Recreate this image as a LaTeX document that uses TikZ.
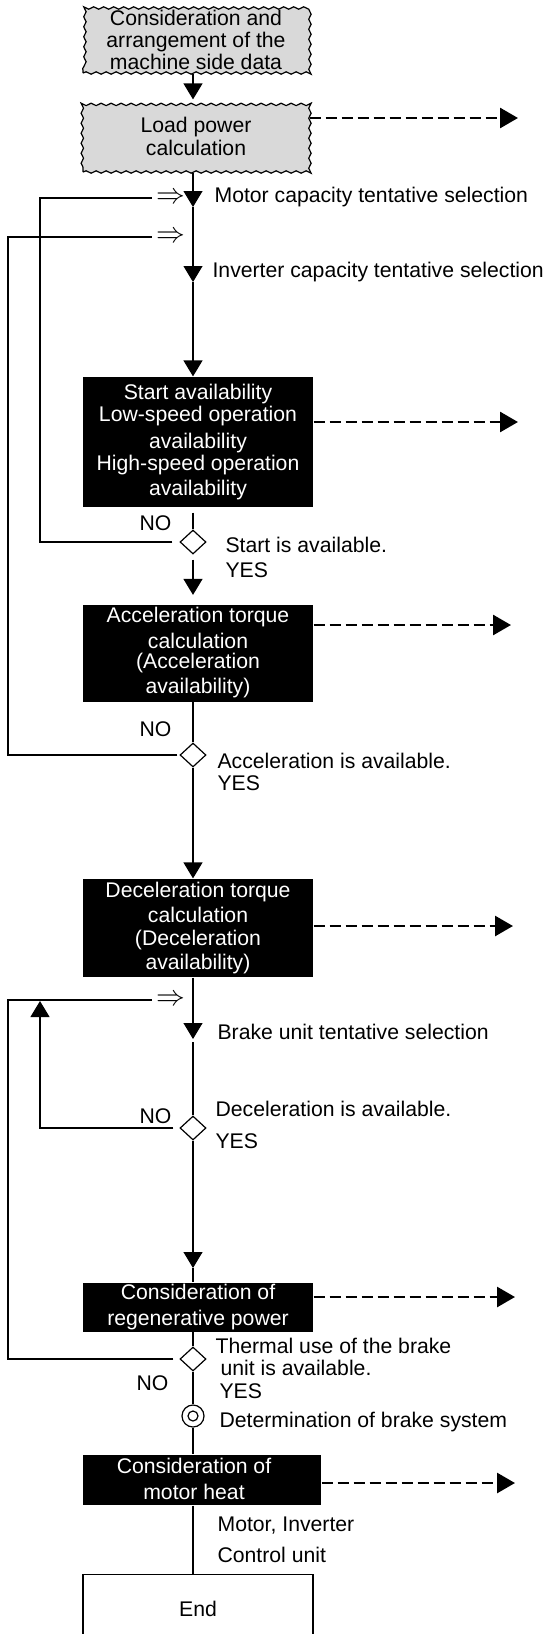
\documentclass[tikz,border=0pt]{standalone}
\usepackage{fontspec}
\setmainfont{Liberation Sans}
\usetikzlibrary{arrows.meta,shapes.geometric,decorations.pathmorphing}
\definecolor{boxgray}{gray}{0.85}

\begin{document}
\begin{tikzpicture}[x=0.5pt,y=-0.5pt,line width=0.6pt,
    font=\fontsize{10.6}{11}\selectfont,
    wavybox/.style={draw,fill=boxgray,decorate,
        decoration={snake,segment length=5pt,amplitude=0.6pt},
        minimum width=113pt,align=center,inner sep=0pt},
    blackbox/.style={fill=black,text=white,minimum width=115pt,align=center,inner sep=0pt},
    decision/.style={diamond,draw,minimum width=13pt,minimum height=12pt,inner sep=0pt},
    arr/.style={-{Triangle[width=9.5pt,length=8pt]}},
    dasharr/.style={line width=1.4pt,dash pattern=on 5.5pt off 2.5pt,
        -{Triangle[width=10pt,length=9pt]}},
    impl/.style={inner sep=0pt,font=\fontsize{15}{15}\selectfont},
    lbl/.style={inner sep=0pt}]
    \useasboundingbox (0,0) rectangle (546,1634);
    \clip (0,0) rectangle (546,1634);

    % spine and turning points
    \coordinate (sp) at (193,0);
    \coordinate (mcap) at (193,207);
    \coordinate (icap) at (193,282);
    \coordinate (bsel) at (193,1039);
    \coordinate (rarr) at (193,1268);
    \coordinate (k1) at (40,198);
    \coordinate (k2) at (8,237);
    \coordinate (k3) at (8,1000);
    \coordinate (k4) at (40,1001);

    % boxes
    \node[wavybox,minimum height=33pt] (box1) at (196,40)
        {Consideration and\\arrangement of the\\machine side data};
    \node[wavybox,minimum height=36pt] (box2) at (196,136)
        {Load power\\[0.5pt]calculation};
    \node[blackbox,minimum height=65pt] (box3) at (198,442)
        {Start availability\\Low-speed operation\\[2.5pt]availability\\High-speed operation\\[1.5pt]availability};
    \node[blackbox,minimum height=48.5pt] (box4) at (198,653)
        {Acceleration torque\\[2pt]calculation\\[-1pt](Acceleration\\[1.5pt]availability)};
    \node[blackbox,minimum height=49pt] (box5) at (198,928)
        {Deceleration torque\\[1.5pt]calculation\\[0.5pt](Deceleration\\[1pt]availability)};
    \node[blackbox,minimum height=24.5pt] (box6) at (198,1307)
        {Consideration of\\[2pt]regenerative power};
    \node[blackbox,minimum width=119pt,minimum height=25pt] (box7) at (202,1480) {};
    \node[lbl,text=white,align=center] (heattxt) at (194,1479)
        {Consideration of\\[2pt]motor heat};
    \node[draw,anchor=north,minimum width=115pt,minimum height=34pt] (endbox) at (198,1574) {End};

    % decisions
    \node[decision] (d1) at (193,542) {};
    \node[decision] (d2) at (193,755) {};
    \node[decision] (d3) at (193,1128) {};
    \node[decision] (d4) at (193,1359) {};
    \node[circle,draw,minimum size=11pt,inner sep=0pt] (c1) at (193,1416) {};
    \draw (c1.center) circle[radius=2.5pt];

    % return marks
    \node[impl] (imp1) at (171,198) {$\Rightarrow$};
    \node[impl] (imp2) at (171,237) {$\Rightarrow$};
    \node[impl] (imp3) at (171,1000) {$\Rightarrow$};

    % main flow
    \draw[arr] (box1.south -| sp) -- (box2.north -| sp);
    \draw[arr] (box2.south -| sp) -- (mcap);
    \draw[arr] (mcap) -- (icap);
    \draw[arr] (icap) -- (box3.north -| sp);
    \draw[shorten <=2.5pt] (box3.south -| sp) -- (d1);
    \draw[shorten <=2.5pt,-{Triangle[width=9.5pt,length=8pt,sep=4.5pt]}] (d1) -- (box4.north -| sp);
    \draw (box4.south -| sp) -- (d2);
    \draw[arr] (d2) -- (box5.north -| sp);
    \draw[arr] (box5.south -| sp) -- (bsel);
    \draw[shorten <=1.5pt] (bsel) -- (d3);
    \draw[arr] (d3) -- (rarr);
    \draw (rarr) -- (box6.north -| sp);
    \draw (box6.south -| sp) -- (d4);
    \draw (d4) -- (c1);
    \draw (c1) -- (box7.north -| sp);
    \draw (box7.south -| sp) -- (endbox.north -| sp);

    % NO branches
    \draw[shorten <=3.5pt,shorten >=2pt] (d1.west) -| (k1) -- (imp1);
    \draw[shorten <=1pt,shorten >=2pt] (d2.west) -| (k2) -- (imp2);
    \draw[arr,shorten <=3pt] (d3.west) -| (k4);
    \draw[shorten <=3pt,shorten >=2pt] (d4.west) -| (k3) -- (imp3);

    % outputs
    \coordinate (o2) at (518,118);
    \coordinate (o3) at (518,422);
    \coordinate (o4) at (511,625);
    \coordinate (o5) at (513,926);
    \coordinate (o6) at (515,1297);
    \coordinate (o7) at (515,1483);
    \draw[dasharr] (box2.east |- o2) -- (o2);
    \draw[dasharr] (box3.east |- o3) -- (o3);
    \draw[dasharr] (box4.east |- o4) -- (o4);
    \draw[dasharr] (box5.east |- o5) -- (o5);
    \draw[dasharr] (box6.east |- o6) -- (o6);
    \draw[dasharr] (box7.east |- o7) -- (o7);

    % labels
    \node[lbl,anchor=base west] (lmcap) at (214,202) {Motor capacity tentative selection};
    \node[lbl,anchor=base west] (licap) at (212,277) {Inverter capacity tentative selection};
    \node[lbl,anchor=base west] (ld1) at (225,552) {Start is available.};
    \node[lbl,anchor=base west] (ly1) at (225,577) {YES};
    \node[lbl,anchor=base east] (ln1) at (172,530) {NO};
    \node[lbl,anchor=base west] (ld2) at (217,768) {Acceleration is available.};
    \node[lbl,anchor=base west] (ly2) at (217,790) {YES};
    \node[lbl,anchor=base east] (ln2) at (172,736) {NO};
    \node[lbl,anchor=base west] (lbsel) at (217,1039) {Brake unit tentative selection};
    \node[lbl,anchor=base west] (ld3) at (215,1116) {Deceleration is available.};
    \node[lbl,anchor=base west] (ly3) at (215,1148) {YES};
    \node[lbl,anchor=base east] (ln3) at (172,1123) {NO};
    \node[lbl,anchor=base west] (ld4a) at (215,1353) {Thermal use of the brake};
    \node[lbl,anchor=base west] (ld4b) at (220,1375) {unit is available.};
    \node[lbl,anchor=base west] (ly4) at (219,1398) {YES};
    \node[lbl,anchor=base east] (ln4) at (169,1390) {NO};
    \node[lbl,anchor=base west] (lc1) at (219,1427) {Determination of brake system};
    \node[lbl,anchor=base west] (lmi) at (217,1531) {Motor, Inverter};
    \node[lbl,anchor=base west] (lcu) at (217,1562) {Control unit};
\end{tikzpicture}
\end{document}
